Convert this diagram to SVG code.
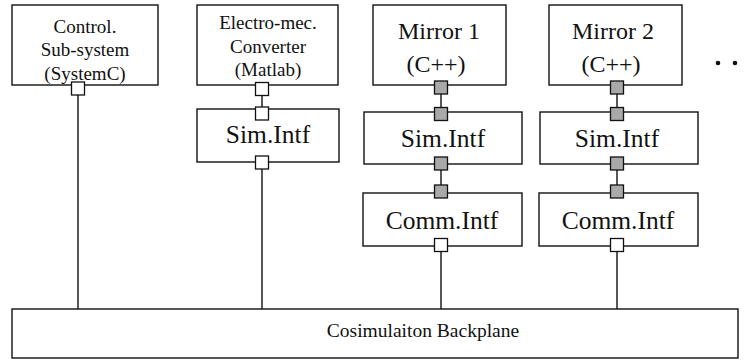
<svg xmlns="http://www.w3.org/2000/svg" width="749" height="360" viewBox="0 0 749 360">
<style>
.box{fill:#fff;stroke:#111;stroke-width:1.4}
.pw{fill:#fff;stroke:#111;stroke-width:1.3}
.pg{fill:#a9a9a9;stroke:#111;stroke-width:1.3}
.ln{stroke:#111;stroke-width:1.4;fill:none}
text{font-family:"Liberation Serif","Times New Roman",serif;fill:#111;text-anchor:middle}
.s{font-size:19px}
.m{font-size:24px}
.l{font-size:25.5px}
</style>
<rect width="749" height="360" fill="#fff"/>
<g id="connectors">
<line class="ln" x1="78" y1="95" x2="78" y2="309"/>
<line class="ln" x1="262" y1="95" x2="262" y2="107"/>
<line class="ln" x1="262" y1="169" x2="262" y2="309"/>
<line class="ln" x1="441" y1="94" x2="441" y2="107"/>
<line class="ln" x1="441" y1="170" x2="441" y2="185"/>
<line class="ln" x1="441" y1="252" x2="441" y2="309"/>
<line class="ln" x1="617" y1="94" x2="617" y2="107"/>
<line class="ln" x1="617" y1="170" x2="617" y2="185"/>
<line class="ln" x1="617" y1="252" x2="617" y2="309"/>
</g>
<g id="control">
<rect class="box" x="12" y="5" width="146" height="80"/>
<text class="s" x="85" y="33">Control.</text>
<text class="s" x="85" y="56">Sub-system</text>
<text class="s" x="85" y="80">(SystemC)</text>
<rect class="pw" x="71.5" y="82" width="13" height="13"/>
</g>
<g id="electro">
<rect class="box" x="197" y="5" width="141" height="80"/>
<text class="s" x="268" y="29">Electro-mec.</text>
<text class="s" x="268" y="53">Converter</text>
<text class="s" x="268" y="76">(Matlab)</text>
<rect class="pw" x="255.5" y="82.5" width="13" height="13"/>
</g>
<g id="simintf0">
<rect class="box" x="197" y="109" width="142" height="53"/>
<text class="l" x="268" y="143">Sim.Intf</text>
<rect class="pw" x="255.5" y="107" width="13" height="13"/>
<rect class="pw" x="255.5" y="156" width="13" height="13"/>
</g>
<g id="mirror1">
<rect class="box" x="373" y="5" width="133" height="80"/>
<text class="m" x="439" y="39">Mirror 1</text>
<text class="m" x="436" y="72">(C++)</text>
<rect class="pg" x="434.5" y="81" width="13" height="13"/>
</g>
<g id="simintf1">
<rect class="box" x="364" y="112" width="158" height="52"/>
<text class="l" x="443" y="147">Sim.Intf</text>
<rect class="pg" x="434.5" y="107.5" width="13" height="13"/>
<rect class="pg" x="434.5" y="157" width="13" height="13"/>
</g>
<g id="comm1">
<rect class="box" x="363" y="193" width="159" height="53"/>
<text class="l" x="442" y="229">Comm.Intf</text>
<rect class="pg" x="434.5" y="185" width="13" height="13"/>
<rect class="pw" x="434.5" y="238.5" width="13" height="13"/>
</g>
<g id="mirror2">
<rect class="box" x="549" y="5" width="133" height="80"/>
<text class="m" x="613" y="39">Mirror 2</text>
<text class="m" x="611" y="72">(C++)</text>
<rect class="pg" x="610.5" y="81" width="13" height="13"/>
</g>
<g id="simintf2">
<rect class="box" x="540" y="112" width="158" height="52"/>
<text class="l" x="617" y="147">Sim.Intf</text>
<rect class="pg" x="610.5" y="107.5" width="13" height="13"/>
<rect class="pg" x="610.5" y="157" width="13" height="13"/>
</g>
<g id="comm2">
<rect class="box" x="539" y="193" width="159" height="53"/>
<text class="l" x="618" y="229">Comm.Intf</text>
<rect class="pg" x="610.5" y="185" width="13" height="13"/>
<rect class="pw" x="610.5" y="238.5" width="13" height="13"/>
</g>
<g id="ellipsis">
<circle cx="718" cy="63" r="2.3" fill="#111"/>
<circle cx="735" cy="63" r="2.3" fill="#111"/>
</g>
<g id="backplane">
<rect class="box" x="12" y="309" width="726" height="49"/>
<text class="s" x="423" y="337" style="font-size:19.5px">Cosimulaiton Backplane</text>
</g>
</svg>
